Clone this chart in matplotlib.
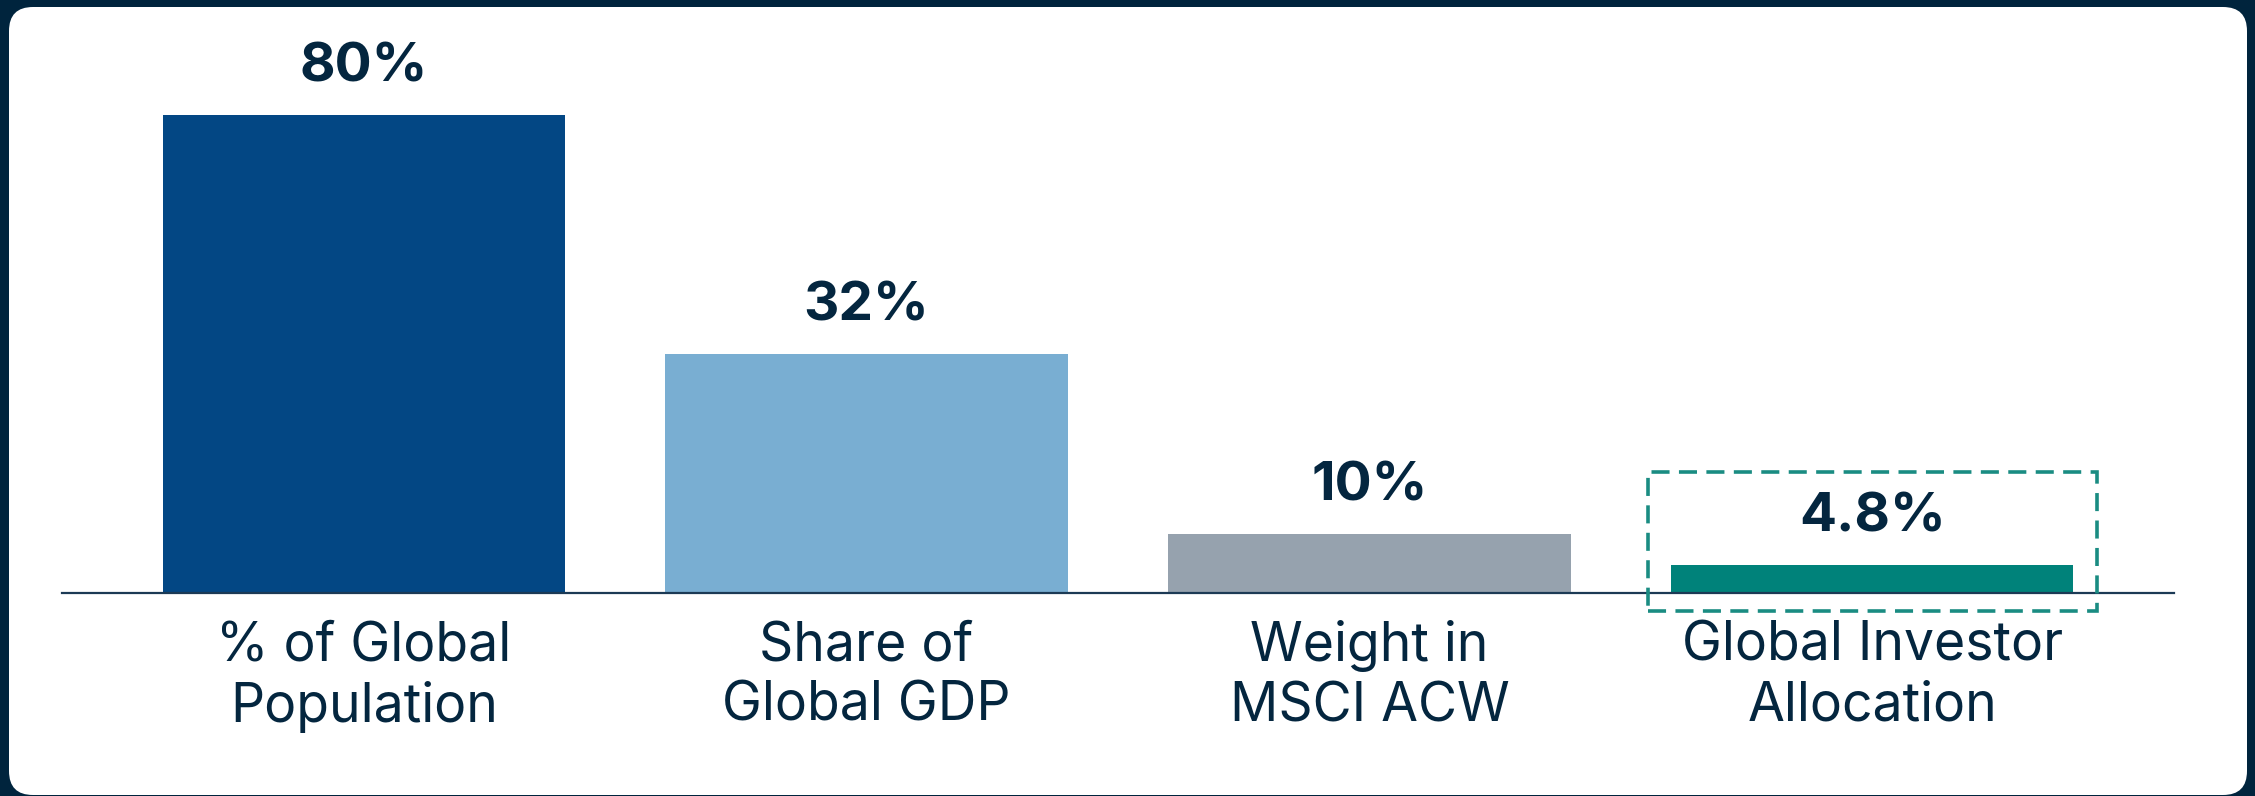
import matplotlib
matplotlib.use("Agg")
import matplotlib.pyplot as plt
from matplotlib.patches import FancyBboxPatch, Rectangle
from matplotlib.transforms import IdentityTransform

# Data
categories = ["% of Global\nPopulation", "Share of\nGlobal GDP", "Weight in\nMSCI ACW", "Global Investor\nAllocation"]
bar_heights = [80, 40, 9.9, 4.7]          # drawn heights as measured
value_labels = ["80%", "32%", "10%", "4.8%"]
bar_colors = ["#034784", "#79aed2", "#96a2ae", "#00827a"]

navy = "#00243d"
text_navy = "#04263f"
teal_dash = "#1a8c82"

plt.rcParams["font.family"] = ["Inter", "DejaVu Sans"]

W, H = 2255, 796
fig = plt.figure(figsize=(W / 100, H / 100), dpi=100)
fig.patch.set_facecolor(navy)

# white rounded panel (pixel coords)
panel = FancyBboxPatch((9, 1), 2238, 788, boxstyle="round,pad=0,rounding_size=24",
                       transform=IdentityTransform(), facecolor="white", edgecolor="none", zorder=0)
fig.add_artist(panel)

ax = fig.add_axes([62 / W, 203 / H, 2112 / W, 478 / H])
ax.set_facecolor("none")
x = list(range(len(categories)))
bars = ax.bar(x, bar_heights, width=0.8, color=bar_colors, zorder=2)
ax.set_xlim(-0.6, 3.6)
ax.set_ylim(0, 80)

for s in ["top", "left", "right"]:
    ax.spines[s].set_visible(False)
ax.spines["bottom"].set_color("#1c3a55")
ax.spines["bottom"].set_linewidth(1.6)
ax.spines["bottom"].set_zorder(3)
ax.set_yticks([])
ax.set_xticks(x)
ax.set_xticklabels(categories, fontsize=38.5, color=text_navy, linespacing=1.24)
ax.tick_params(axis="x", length=0, pad=19.5)

for xi, h, lab in zip(x, bar_heights, value_labels):
    ax.annotate(lab, (xi, h), xytext=(0, 24), textcoords="offset points",
                ha="center", va="baseline", fontsize=39.5, fontweight="bold",
                color=text_navy, annotation_clip=False)

# dashed highlight around the last bar
hi = 3
box = Rectangle((hi - 0.446, -3.0), 0.892, 23.2, fill=False, edgecolor=teal_dash,
                linewidth=2.6, linestyle=(0, (5, 2.6)), clip_on=False, zorder=4)
ax.add_patch(box)

fig.savefig("out.png", dpi=100, facecolor=fig.get_facecolor())
